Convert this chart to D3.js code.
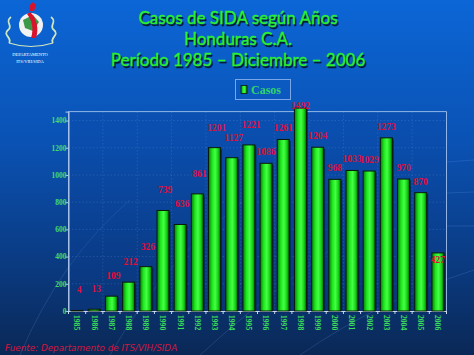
<!DOCTYPE html>
<html><head><meta charset="utf-8">
<script src="https://cdn.jsdelivr.net/npm/d3@7"></script>
<style>html,body{margin:0;padding:0;overflow:hidden;background:#0a3f8f}</style>
</head><body>
<script>
const years = ["1985","1986","1987","1988","1989","1990","1991","1992","1993","1994","1995","1996","1997","1998","1999","2000","2001","2002","2003","2004","2005","2006"];
const casos = [4,13,109,212,326,739,636,861,1201,1127,1221,1086,1261,1492,1204,968,1033,1029,1273,970,870,427];
const yTicks = [0,200,400,600,800,1000,1200,1400];
const titleLines = ["Casos de SIDA según Años","Honduras C.A.","Período 1985 – Diciembre – 2006"];
const legendLabel = "Casos";
const source = "Fuente: Departamento de ITS/VIH/SIDA";
const logoText = ["DEPARTAMENTO","ITS/VIH/SIDA"];

(function(){
const W=474,H=355;
const svg=d3.select("body").append("svg").attr("width",W).attr("height",H);
const defs=svg.append("defs");
const bg=defs.append("linearGradient").attr("id","bg").attr("x1",0).attr("y1",0).attr("x2",0).attr("y2",1);
bg.append("stop").attr("offset","0%").attr("stop-color","#0c66d6");
bg.append("stop").attr("offset","40%").attr("stop-color","#0a52b4");
bg.append("stop").attr("offset","75%").attr("stop-color","#0a3a80");
bg.append("stop").attr("offset","100%").attr("stop-color","#0a2856");
const bar=defs.append("linearGradient").attr("id","bar").attr("x1",0).attr("y1",0).attr("x2",1).attr("y2",0);
bar.append("stop").attr("offset","0%").attr("stop-color","#067a06");
bar.append("stop").attr("offset","30%").attr("stop-color","#1ee81e");
bar.append("stop").attr("offset","55%").attr("stop-color","#44ff44");
bar.append("stop").attr("offset","80%").attr("stop-color","#16d016");
bar.append("stop").attr("offset","100%").attr("stop-color","#056605");

svg.append("rect").attr("width",W).attr("height",H).attr("fill","url(#bg)");

const deco=svg.append("g").attr("stroke","#7fb0ff").attr("stroke-opacity",0.22).attr("fill","none").attr("stroke-width",0.8);
deco.append("path").attr("d","M20,355 Q60,260 130,200");
deco.append("path").attr("d","M110,355 Q170,250 260,190");
deco.append("path").attr("d","M200,355 Q260,300 330,250");
deco.append("path").attr("d","M300,355 Q380,300 474,270");
deco.append("path").attr("d","M447,162 L474,160");
deco.append("path").attr("d","M447,193 L474,192");
deco.append("path").attr("d","M447,226 L474,226");

const x=d3.scaleBand().domain(years).range([68.5,446.5]).paddingInner(0.3).paddingOuter(0.15);
const y=d3.scaleLinear().domain([0,1466]).range([311,111.6]);

const yTop=y(1466), yBot=y(0);
svg.append("rect").attr("x",68.5).attr("y",yTop).attr("width",378).attr("height",yBot-yTop)
  .attr("fill","#0a3f98").attr("fill-opacity",0.25);
const grid=svg.append("g").attr("stroke","#9cc2ff").attr("stroke-opacity",0.28).attr("stroke-dasharray","1.5,2").attr("stroke-width",0.6);
yTicks.slice(1).forEach(t=>grid.append("line").attr("x1",68.5).attr("x2",446.5).attr("y1",y(t)).attr("y2",y(t)));
years.forEach((yr,i)=>{ if(i%2===1){ const xx=x(yr)+x.bandwidth()+x.step()*x.paddingInner()/2; grid.append("line").attr("x1",xx).attr("x2",xx).attr("y1",yTop).attr("y2",yBot);} });
svg.append("path").attr("d",`M68.5,${yBot} L68.5,${yTop} L446.5,${yTop} L446.5,${yBot}`)
  .attr("fill","none").attr("stroke","#a9c6f0").attr("stroke-width",1).attr("stroke-opacity",0.85);

const yAxis=d3.axisLeft(y).tickValues(yTicks).tickSize(3).tickFormat(d3.format("d"));
const ga=svg.append("g").attr("transform","translate(68.5,0)").call(yAxis);
ga.select(".domain").attr("stroke","#b8cdea");
ga.selectAll(".tick line").attr("stroke","#b8cdea");
ga.selectAll(".tick text").attr("fill","#3ee05a").attr("font-family","Liberation Serif, serif").attr("font-weight","bold").attr("font-size",7.5).attr("x",-2);

const xAxis=d3.axisBottom(x).tickSize(0);
const gx=svg.append("g").attr("transform",`translate(0,${yBot})`).call(xAxis);
gx.select(".domain").attr("stroke","#c8d8ee").attr("stroke-width",1.2);
gx.selectAll(".tick text").attr("fill","#3ee05a").attr("font-family","Liberation Serif, serif").attr("font-weight","bold").attr("font-size",7.6)
  .attr("transform","rotate(90)").attr("text-anchor","start").attr("x",4).attr("y",0).attr("dy","0.35em");
years.forEach((yr,i)=>{ const xx=x(yr)-x.step()*x.paddingInner()/2; gx.append("line").attr("x1",xx).attr("x2",xx).attr("y1",0).attr("y2",3).attr("stroke","#c8d8ee");});
gx.append("line").attr("x1",446.5).attr("x2",446.5).attr("y1",0).attr("y2",3).attr("stroke","#c8d8ee");

const bars=svg.append("g");
years.forEach((yr,i)=>{
  bars.append("rect").attr("x",x(yr)+1.5).attr("y",y(casos[i])+1.5).attr("width",x.bandwidth()).attr("height",yBot-y(casos[i])-1.5)
    .attr("fill","#001a40").attr("opacity",0.6);
  bars.append("rect").attr("x",x(yr)).attr("y",y(casos[i])).attr("width",x.bandwidth()).attr("height",yBot-y(casos[i]))
    .attr("fill","url(#bar)").attr("stroke","#0a1a0a").attr("stroke-width",1);
});

const lab=svg.append("g").attr("fill","#dc1038").attr("font-family","Liberation Serif, serif").attr("font-size",9.5).attr("font-weight","bold").attr("text-anchor","middle");
years.forEach((yr,i)=>{
  let off = i<=10 ? 17 : 8;
  if(i===years.length-1) off=-10;
  let ly=Math.max(y(casos[i])-off,108.5);
  lab.append("text").attr("x",x(yr)+x.bandwidth()/2+(i<=10?2:0)).attr("y",ly).text(d3.format("d")(casos[i]));
});

const tg=svg.append("g").attr("font-family","Lato, 'Open Sans', sans-serif").attr("font-size",17).attr("text-anchor","middle");
const tys=[24,45,66];
titleLines.forEach((t,i)=>{
  tg.append("text").attr("x",238).attr("y",tys[i]+1.5).attr("dx",1.5).attr("fill","#041c34").attr("stroke","#041c34").attr("stroke-width",0.4).text(t);
  tg.append("text").attr("x",238).attr("y",tys[i]).attr("fill","#2cf02c").attr("stroke","#2cf02c").attr("stroke-width",0.35).text(t);
});

const lg=svg.append("g");
lg.append("rect").attr("x",235.5).attr("y",79.5).attr("width",55).attr("height",20).attr("fill","none").attr("stroke","#79a6e6").attr("stroke-width",1);
lg.append("rect").attr("x",241).attr("y",85.5).attr("width",6).attr("height",8).attr("fill","url(#bar)").attr("stroke","#0a1a0a").attr("stroke-width",0.8);
lg.append("text").attr("x",251).attr("y",94).attr("fill","#33d36a").attr("font-family","Liberation Serif, serif").attr("font-weight","bold").attr("font-size",12).text(legendLabel);

svg.append("text").attr("x",5).attr("y",351).attr("fill","#d4163e").attr("font-family","'DejaVu Sans', sans-serif").attr("font-style","italic").attr("font-size",8.8).text(source);

const logo=svg.append("g");
logo.append("circle").attr("cx",31).attr("cy",25).attr("r",12).attr("fill","#f2f2f2");
logo.append("path").attr("d","M23,20 L33,15 L39,22 L33,31 L25,28 Z").attr("fill","#3a9a4a");
logo.append("path").attr("d","M30,12 C37,18 39,29 36,38 L31,38 C34,29 32,20 27,14 Z").attr("fill","#d8142c");
logo.append("path").attr("d","M30,5 L33,2 L36,5 L34,11 L29,11 Z").attr("fill","#d8142c");
logo.append("path").attr("d","M11,17 C4,22 14,26 8,30 C2,35 13,38 9,43 M51,17 C58,22 48,26 54,30 C60,35 49,38 53,43")
  .attr("fill","none").attr("stroke","#cfe6c0").attr("stroke-width",1.8);
logo.append("path").attr("d","M9,43 Q31,50 53,43").attr("fill","none").attr("stroke","#cfe6c0").attr("stroke-width",1.2);
const lt=logo.append("g").attr("fill","#ffffff").attr("font-family","Liberation Serif, serif").attr("font-size",4.5).attr("text-anchor","middle");
lt.append("text").attr("x",30).attr("y",56).text(logoText[0]);
lt.append("text").attr("x",30).attr("y",62.5).text(logoText[1]);
})();
</script>
</body></html>
